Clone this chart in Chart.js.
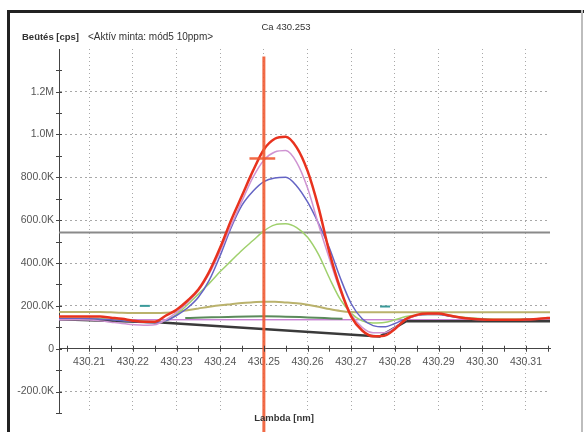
<!DOCTYPE html>
<html>
<head>
<meta charset="utf-8">
<script src="https://cdn.jsdelivr.net/npm/chart.js@4/dist/chart.umd.min.js"></script>
<style>
  html, body { margin: 0; padding: 0; background: #fff; }
  canvas { display: block; }
</style>
</head>
<body>
<canvas id="spectrum" width="584" height="432"></canvas>
<script>
// Wavelength grid of the scans (nm)
const lambda = [
  430.2025, 430.205, 430.2075, 430.21, 430.2125, 430.215, 430.2175, 430.22, 430.2225, 430.225,
  430.2275, 430.23, 430.2325, 430.235, 430.2375, 430.24, 430.2425, 430.245, 430.2475, 430.25,
  430.2525, 430.255, 430.2575, 430.26, 430.2625, 430.265, 430.2675, 430.27, 430.2725, 430.275,
  430.2775, 430.28, 430.2825, 430.285, 430.2875, 430.29, 430.2925, 430.295, 430.2975, 430.30,
  430.3025, 430.305, 430.3075, 430.31, 430.3125, 430.315, 430.3175
];

// Intensities (cps)
const redScan = [
  150000, 150000, 150000, 150000, 150000, 145000, 140000, 131000, 126000, 126000,
  154000, 182000, 224000, 276000, 360000, 472000, 600000, 715000, 830000, 930000,
  980000, 990000, 940000, 830000, 660000, 450000, 280000, 150000, 85000, 58000,
  60000, 92000, 138000, 158000, 164000, 164000, 155000, 146000, 140000, 136000,
  135000, 135000, 135000, 136000, 139000, 143000, 145000
];
const pinkScan = [
  135000, 135000, 135000, 134000, 130000, 124000, 118000, 113000, 110000, 112000,
  135000, 170000, 215000, 270000, 350000, 455000, 575000, 690000, 800000, 880000,
  918000, 925000, 870000, 750000, 580000, 420000, 270000, 160000, 100000, 75000,
  75000, 100000, 135000, 155000, 162000, 162000, 155000, 145000, 138000, 135000,
  134000, 134000, 134000, 135000, 137000, 140000, 142000
];
const blueScan = [
  140000, 140000, 140000, 140000, 138000, 135000, 131000, 128000, 124000, 122000,
  130000, 155000, 190000, 240000, 320000, 435000, 565000, 670000, 735000, 780000,
  797000, 800000, 760000, 685000, 585000, 470000, 330000, 210000, 140000, 108000,
  102000, 118000, 140000, 155000, 160000, 160000, 152000, 145000, 140000, 137000,
  135000, 135000, 135000, 136000, 138000, 140000, 141000
];
const greenScan = [
  142000, 142000, 142000, 142000, 140000, 137000, 133000, 130000, 127000, 125000,
  130000, 160000, 205000, 255000, 305000, 360000, 410000, 460000, 505000, 550000,
  578000, 583000, 565000, 520000, 440000, 330000, 230000, 165000, 130000, 120000,
  122000, 135000, 150000, 158000, 160000, 160000, 155000, 148000, 143000, 140000,
  138000, 138000, 138000, 139000, 140000, 142000, 143000
];
const khakiScan = [
  172000, 172000, 172000, 172000, 172000, 170000, 168000, 167000, 167000, 167000,
  168000, 172000, 180000, 188000, 196000, 203000, 208000, 213000, 217000, 219000,
  219000, 216000, 212000, 205000, 196000, 185000, 176000, 171000, 170000, 170000,
  170000, 170000, 170000, 170000, 170000, 170000, 170000, 170000, 170000, 170000,
  170000, 170000, 170000, 170000, 170000, 170000, 170000
];

// Background line, blank segment and flat reference
const baseX = [430.2025, 430.2265, 430.2765, 430.2825, 430.3175];
const baseY = [138000, 122000, 57000, 128000, 128000];
const blankX = [430.232, 430.25, 430.268];
const blankY = [143000, 152000, 140000];
const flatX = [430.2025, 430.3175];
const flatY = [135000, 135000];

// Threshold, peak marker and window marks
const limitX = [430.2031, 430.3155];
const limitY = [542000, 542000];
const peakLineX = [430.25, 430.25];
const peakLineY = [1364000, -400000];
const crossX = [430.2467, 430.2526];
const crossY = [888000, 888000];
const winLeftX = [430.2216, 430.2239];
const winLeftY = [200000, 200000];
const winRightX = [430.2766, 430.2789];
const winRightY = [197000, 197000];

// Axis ticks
const xTickValues = [430.21, 430.22, 430.23, 430.24, 430.25, 430.26, 430.27, 430.28, 430.29, 430.30, 430.31];
const yTickValues = [-200000, 0, 200000, 400000, 600000, 800000, 1000000, 1200000];
const yTickLabels = ['-200.0K', '0', '200.0K', '400.0K', '600.0K', '800.0K', '1.0M', '1.2M'];

function pts(xs, ys) {
  return xs.map((x, i) => ({ x, y: ys[i] }));
}

function line(data, color, width, extra) {
  return Object.assign({
    data,
    borderColor: color,
    borderWidth: width,
    pointRadius: 0,
    fill: false,
    cubicInterpolationMode: 'monotone'
  }, extra || {});
}

// frame, header texts and the crossing tick marks
const decor = {
  id: 'decor',
  beforeDraw(chart) {
    const c = chart.ctx;
    c.save();
    c.fillStyle = '#fff';
    c.fillRect(0, 0, chart.width, chart.height);
    c.fillStyle = '#222';
    c.fillRect(7, 10, 3, 422);
    c.fillRect(7, 10, 577, 3);
    c.fillStyle = '#bdbdbd';
    c.fillRect(581, 10, 2, 422);
    c.restore();
  },
  afterDraw(chart) {
    const c = chart.ctx;
    const xs = chart.scales.x, ys = chart.scales.y;
    const area = chart.chartArea;
    const y0 = ys.getPixelForValue(0);
    c.save();
    c.strokeStyle = '#444';
    c.lineWidth = 1;
    c.beginPath();
    for (let v = 430.205; v < 430.316; v += 0.005) {
      const px = Math.round(xs.getPixelForValue(v)) + 0.5;
      c.moveTo(px, y0 - 3);
      c.lineTo(px, y0 + 3);
    }
    for (let v = -300000; v <= 1300000; v += 100000) {
      const py = Math.round(ys.getPixelForValue(v)) + 0.5;
      c.moveTo(area.left - 3, py);
      c.lineTo(area.left + 3, py);
    }
    c.stroke();

    c.fillStyle = '#333';
    c.textBaseline = 'middle';
    c.textAlign = 'center';
    c.font = '9.5px "Liberation Sans", Arial, sans-serif';
    c.fillText('Ca 430.253', 286, 27);
    c.textAlign = 'left';
    c.font = 'bold 9.5px "Liberation Sans", Arial, sans-serif';
    c.fillText('Beütés [cps]', 22, 37);
    c.font = '10px "Liberation Sans", Arial, sans-serif';
    c.fillText('<Aktív minta: mód5 10ppm>', 88, 37);
    c.textAlign = 'center';
    c.font = 'bold 9.5px "Liberation Sans", Arial, sans-serif';
    c.fillText('Lambda [nm]', 284, 418);
    c.restore();
  }
};

new Chart(document.getElementById('spectrum'), {
  type: 'line',
  data: {
    datasets: [
      line(pts(peakLineX, peakLineY), 'rgba(240,90,50,0.9)', 3, { clip: false, cubicInterpolationMode: 'default' }),
      line(pts(crossX, crossY), 'rgba(240,90,50,0.9)', 2.5),
      line(pts(lambda, redScan), '#e8321e', 2.5),
      line(pts(lambda, pinkScan), '#cf94d2', 1.5),
      line(pts(lambda, blueScan), '#6464c4', 1.5),
      line(pts(lambda, greenScan), '#9fd06c', 1.5),
      line(pts(lambda, khakiScan), '#bab26c', 2),
      line(pts(baseX, baseY), '#3a3a3a', 2.5, { cubicInterpolationMode: 'default', tension: 0 }),
      line(pts(blankX, blankY), '#5a8a5a', 2),
      line(pts(flatX, flatY), '#b04cc0', 1),
      line(pts(winLeftX, winLeftY), '#3a9a9a', 2),
      line(pts(winRightX, winRightY), '#3a9a9a', 2),
      line(pts(limitX, limitY), '#8a8a8a', 2)
    ]
  },
  options: {
    responsive: false,
    animation: false,
    devicePixelRatio: 1,
    layout: { padding: { left: 9, top: 49, right: 34, bottom: 19 } },
    plugins: {
      legend: { display: false },
      tooltip: { enabled: false },
      title: { display: false }
    },
    scales: {
      x: {
        type: 'linear',
        position: { y: 0 },
        min: 430.2031,
        max: 430.3155,
        afterBuildTicks: (s) => { s.ticks = xTickValues.map(v => ({ value: v })); },
        ticks: {
          maxRotation: 0,
          autoSkip: false,
          padding: 7,
          color: '#555',
          font: { family: '"Liberation Sans", Arial, sans-serif', size: 10.5 },
          callback: (v) => Number(v).toFixed(2)
        },
        grid: { color: '#a8a8a8', lineWidth: 1, drawTicks: false },
        border: { color: '#444', width: 1, dash: [1, 3] }
      },
      y: {
        type: 'linear',
        position: 'left',
        min: -300000,
        max: 1399000,
        afterFit: (s) => { s.width = 50; },
        afterBuildTicks: (s) => { s.ticks = yTickValues.map(v => ({ value: v })); },
        ticks: {
          autoSkip: false,
          padding: 5,
          color: '#555',
          font: { family: '"Liberation Sans", Arial, sans-serif', size: 10.5 },
          callback: (v) => yTickLabels[yTickValues.indexOf(v)]
        },
        grid: { color: '#a8a8a8', lineWidth: 1, drawTicks: false },
        border: { color: '#444', width: 1, dash: [2, 3] }
      }
    }
  },
  plugins: [decor]
});
</script>
</body>
</html>
